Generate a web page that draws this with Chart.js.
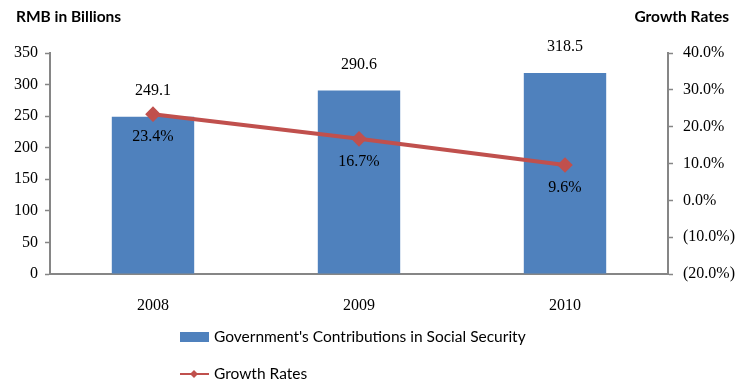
<!DOCTYPE html>
<html>
<head>
<meta charset="utf-8">
<script src="https://cdn.jsdelivr.net/npm/chart.js@4"></script>
<style>
  html, body { margin: 0; padding: 0; background: #fff; }
  #wrap { width: 745px; height: 383px; }
</style>
</head>
<body>
<div id="wrap"><canvas id="myChart" width="745" height="383"></canvas></div>
<script>
// chart data
let years = ['2008', '2009', '2010'];
let contributions = [249.1, 290.6, 318.5];
let growthRates = [23.4, 16.7, 9.6];
let leftTicks = [0, 50, 100, 150, 200, 250, 300, 350];
let rightTicks = [-20, -10, 0, 10, 20, 30, 40];

let blue = '#4F81BD';
let red = '#C0504D';
let axisGray = '#868686';
let serif = '"Liberation Serif", "Times New Roman", serif';
let sans = 'Lato, "Open Sans", sans-serif';

function pct(v) {
    let s = Math.abs(v).toFixed(1) + '%';
    return v < 0 ? '(' + s + ')' : s;
}

// value labels + titles + legend drawn by hand
let extras = {
    id: 'extras',
    afterDatasetsDraw(chart) {
        let ctx = chart.ctx;
        ctx.save();
        ctx.fillStyle = '#000';
        ctx.font = '16px ' + serif;
        ctx.textAlign = 'center';
        ctx.textBaseline = 'middle';

        // dataset 1 = bars, dataset 0 = line
        let bars = chart.getDatasetMeta(1).data;
        bars.forEach((b, i) => {
            ctx.fillText(contributions[i].toFixed(1), b.x, b.y - 26);
        });
        let pts = chart.getDatasetMeta(0).data;
        pts.forEach((p, i) => {
            ctx.fillText(growthRates[i].toFixed(1) + '%', p.x, p.y + 23);
        });

        // axis titles
        ctx.font = 'bold 15.5px ' + sans;
        ctx.textAlign = 'left';
        ctx.fillText('RMB in Billions', 16, 17);
        ctx.textAlign = 'right';
        ctx.fillText('Growth Rates', 729, 17);

        // legend
        ctx.textAlign = 'left';
        ctx.font = '15.5px ' + sans;
        ctx.fillStyle = blue;
        ctx.fillRect(180, 332, 29, 10);
        ctx.fillStyle = '#000';
        ctx.fillText("Government's Contributions in Social Security", 214, 337);

        ctx.strokeStyle = red;
        ctx.lineWidth = 2;
        ctx.beginPath();
        ctx.moveTo(180, 374);
        ctx.lineTo(209, 374);
        ctx.stroke();
        ctx.fillStyle = red;
        ctx.beginPath();
        ctx.moveTo(194, 370);
        ctx.lineTo(198, 374);
        ctx.lineTo(194, 378);
        ctx.lineTo(190, 374);
        ctx.closePath();
        ctx.fill();
        ctx.fillStyle = '#000';
        ctx.fillText('Growth Rates', 214, 374);
        ctx.restore();
    }
};

let chart1 = new Chart(document.getElementById('myChart').getContext('2d'), {
    type: 'bar',
    data: {
        labels: years,
        datasets: [{
            type: 'line',
            label: 'Growth Rates',
            data: growthRates,
            yAxisID: 'y2',
            borderColor: red,
            backgroundColor: red,
            borderWidth: 4,
            pointStyle: 'rectRot',
            pointRadius: 5,
            pointBackgroundColor: red,
            pointBorderColor: red,
            order: 0
        }, {
            label: "Government's Contributions in Social Security",
            data: contributions,
            yAxisID: 'y',
            backgroundColor: blue,
            categoryPercentage: 1,
            barPercentage: 0.4,
            order: 1
        }]
    },
    options: {
        responsive: false,
        animation: false,
        layout: { padding: { top: 53, left: 0, right: 0, bottom: 0 } },
        plugins: {
            legend: { display: false },
            tooltip: { enabled: false }
        },
        scales: {
            x: {
                grid: { display: false },
                border: { color: axisGray, width: 2 },
                ticks: { font: { family: serif, size: 16 }, color: '#000', padding: 14 },
                afterFit(scale) { scale.height = 109; }
            },
            y: {
                position: 'left',
                min: 0,
                max: 350,
                afterBuildTicks(scale) { scale.ticks = leftTicks.map(v => ({ value: v })); },
                grid: { drawOnChartArea: false, tickLength: 5, color: axisGray, tickWidth: 1.5 },
                border: { color: axisGray, width: 2 },
                ticks: { font: { family: serif, size: 16 }, color: '#000', padding: 7 },
                afterFit(scale) { scale.width = 50; }
            },
            y2: {
                position: 'right',
                min: -20,
                max: 40,
                afterBuildTicks(scale) { scale.ticks = rightTicks.map(v => ({ value: v })); },
                grid: { drawOnChartArea: false, tickLength: 5, color: axisGray, tickWidth: 1.5 },
                border: { color: axisGray, width: 2 },
                ticks: { font: { family: serif, size: 16 }, color: '#000', padding: 10, callback: v => pct(v) },
                afterFit(scale) { scale.width = 77; }
            }
        }
    },
    plugins: [extras]
});
</script>
</body>
</html>
